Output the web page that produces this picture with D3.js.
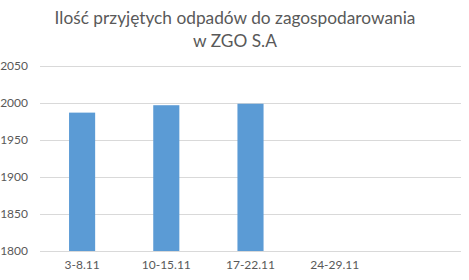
<!DOCTYPE html>
<html>
<head>
<meta charset="UTF-8">
<title>Ilość przyjętych odpadów</title>
<script src="https://d3js.org/d3.v7.min.js"></script>
<style>
  body { margin: 0; background: #fff; }
  text { font-family: Lato, "Open Sans", sans-serif; fill: #595959; }
</style>
</head>
<body>
<div id="chart"></div>
<script>
var categories = ["3-8.11", "10-15.11", "17-22.11", "24-29.11", ""];
var values = [1987, 1997, 1999, null, null];
var yTicks = [1800, 1850, 1900, 1950, 2000, 2050];
var titleLines = ["Ilość przyjętych odpadów do zagospodarowania", "w ZGO S.A"];

var width = 469, height = 280;
var margin = {top: 66, right: 8, bottom: 29, left: 40};

var svg = d3.select("#chart").append("svg")
  .attr("width", width)
  .attr("height", height);

var x = d3.scaleBand()
  .domain(categories.map(function(d, i) { return i; }))
  .range([margin.left, width - margin.right])
  .paddingInner(0.69)
  .paddingOuter(0.345);

var y = d3.scaleLinear()
  .domain([1800, 2050])
  .range([height - margin.bottom, margin.top]);

// gridlines
svg.append("g")
  .selectAll("line")
  .data(yTicks)
  .enter().append("line")
  .attr("x1", margin.left)
  .attr("x2", width - margin.right)
  .attr("y1", function(d) { return Math.round(y(d)) + 0.5; })
  .attr("y2", function(d) { return Math.round(y(d)) + 0.5; })
  .attr("stroke", "#d9d9d9")
  .attr("stroke-width", 1);

// y tick labels
var yAxis = d3.axisLeft(y).tickValues(yTicks).tickSize(0).tickPadding(12)
  .tickFormat(d3.format("d"));
svg.append("g")
  .attr("transform", "translate(" + margin.left + ",0)")
  .call(yAxis)
  .call(function(g) { g.select(".domain").remove(); })
  .selectAll("text")
  .style("font-size", "12px")
  .attr("fill", "#595959");

// bars
svg.append("g")
  .selectAll("rect")
  .data(values.map(function(v, i) { return {i: i, v: v}; }).filter(function(d) { return d.v != null; }))
  .enter().append("rect")
  .attr("x", function(d) { return x(d.i); })
  .attr("width", x.bandwidth())
  .attr("y", function(d) { return y(d.v); })
  .attr("height", function(d) { return y(1800) - y(d.v); })
  .attr("fill", "#5b9bd5");

// x labels
var xAxis = d3.axisBottom(x).tickSize(0).tickPadding(9)
  .tickFormat(function(i) { return categories[i]; });
svg.append("g")
  .attr("transform", "translate(0," + (height - margin.bottom) + ")")
  .call(xAxis)
  .call(function(g) { g.select(".domain").remove(); })
  .selectAll("text")
  .style("font-size", "12px")
  .attr("fill", "#595959");

// title
svg.append("g")
  .selectAll("text")
  .data(titleLines)
  .enter().append("text")
  .attr("x", 235)
  .attr("y", function(d, i) { return 24 + i * 23; })
  .attr("text-anchor", "middle")
  .style("font-size", "17.3px")
  .text(function(d) { return d; });
</script>
</body>
</html>
